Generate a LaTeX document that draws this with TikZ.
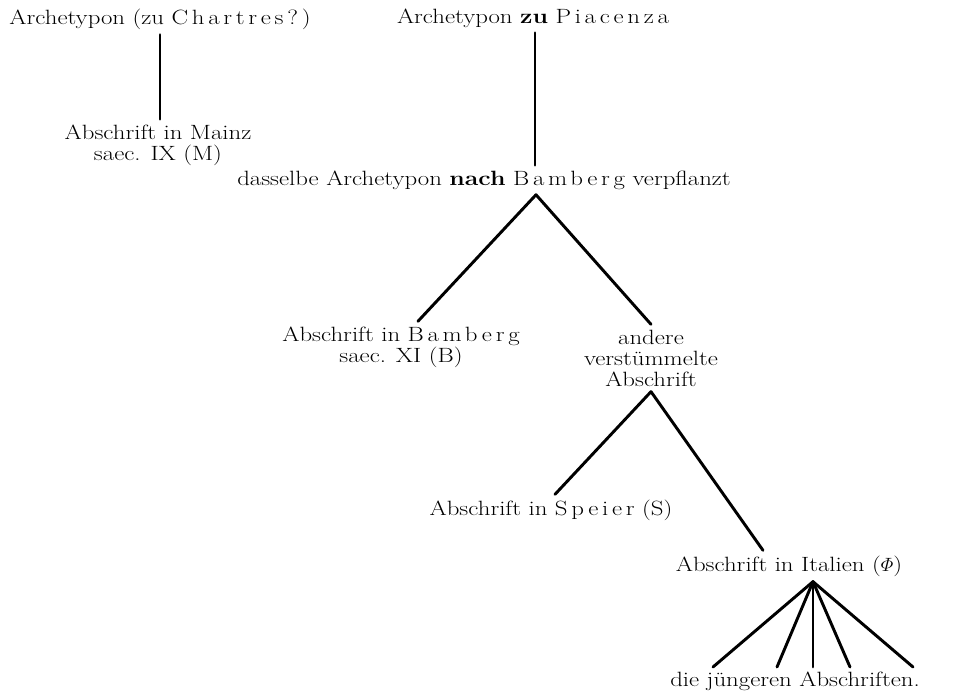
\documentclass[tikz,border=0pt]{standalone}
\usepackage{amsmath}
\usepackage[no-math]{fontspec}
\setmainfont[FakeStretch=1.2]{Latin Modern Roman}
\newfontfamily\spacedfont[FakeStretch=1.2,LetterSpace=18]{Latin Modern Roman}
\newcommand{\sperr}[1]{{\spacedfont #1}}
\begin{document}
\begin{tikzpicture}[x=0.75pt,y=-0.75pt,
  lbl/.style={inner sep=1.5pt,outer sep=2.5pt,align=center,font=\fontsize{15.5}{15.8}\selectfont},
  branch/.style={line width=2.2pt,line cap=round}]
\useasboundingbox (0,0) rectangle (953,694);
% first stemma: Chartres -> Mainz
\node[lbl] (chartres) at (160,19) {Archetypon (zu \sperr{Chartres?)}};
\node[lbl] (mainz) at (158,145) {Abschrift in Mainz\\saec. IX (M)};
\draw[branch] (chartres.south -| 160,0) -- (mainz.north -| 160,0);
% second stemma
\node[lbl] (piac) at (533,18) {Archetypon \textbf{zu} \sperr{Piacenza}};
\node[lbl] (dass) at (484,180) {dasselbe Archetypon \textbf{nach} \sperr{Bamberg} verpflanzt};
\node[lbl] (bamb) at (401,347) {Abschrift in \sperr{Bamberg}\\saec. XI (B)};
\node[lbl] (andere) at (651,358) {andere\\verstümmelte\\Abschrift};
\node[lbl] (speier) at (551,510) {Abschrift in \sperr{Speier} (S)};
\node[lbl] (ital) at (789,566) {Abschrift in Italien ($\varPhi$)};
\node[lbl] (jung) at (795,681) {die jüngeren Abschriften.};
\coordinate (apex) at (dass.south -| 536,0);
\coordinate (bambtip) at (bamb.north -| 418,0);
\coordinate (italtip) at (ital.north -| 763,0);
\coordinate (fan) at (ital.south -| 813,0);
\coordinate (j1) at (713,667);
\coordinate (j2) at (777,667);
\coordinate (j3) at (813,667);
\coordinate (j4) at (850,667);
\coordinate (j5) at (913,667);
\draw[branch] (piac.south -| 535,0) -- (dass.north -| 535,0);
\draw[branch] (apex) -- (bambtip);
\draw[branch] (apex) -- (andere.north);
\draw[branch] (andere.south) -- (speier.north -| 555,0);
\draw[branch] (andere.south) -- (italtip);
\foreach \j in {j1,j2,j3,j4,j5} \draw[branch] (fan) -- (\j);
\end{tikzpicture}
\end{document}
